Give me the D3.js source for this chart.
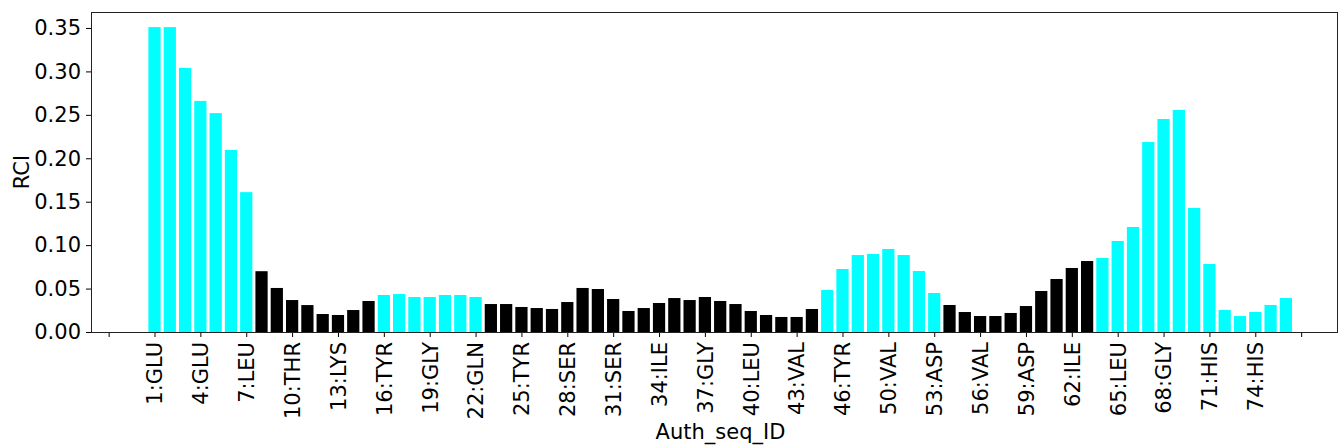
<!DOCTYPE html>
<html>
<head>
<meta charset="utf-8">
<script src="https://cdn.jsdelivr.net/npm/d3@7"></script>
<style>
  html, body { margin: 0; padding: 0; background: #fff; }
  svg { display: block; }
  text { font-family: "DejaVu Sans", sans-serif; }
</style>
</head>
<body>
<svg id="chart" width="1339" height="447"></svg>
<script>
// Residue numbers (one residue missing between 47 and 50)
const residues = [1,2,3,4,5,6,7,8,9,10,11,12,13,14,15,16,17,18,19,20,21,22,23,24,25,26,27,28,29,30,
  31,32,33,34,35,36,37,38,39,40,41,42,43,44,45,46,47,49,50,51,52,53,54,55,56,57,58,59,60,61,
  62,63,64,65,66,67,68,69,70,71,72,73,74,75,76];
// RCI values per bar
const rci = [0.351,0.351,0.304,0.266,0.252,0.2095,0.161,0.070,0.0507,0.0368,0.031,0.0207,0.0196,0.0253,0.0357,
  0.0426,0.0437,0.0403,0.0403,0.0426,0.0426,0.0403,
  0.0322,0.0322,0.0288,0.0276,0.0265,0.0345,0.0507,0.0495,0.038,0.0242,0.0276,0.0334,0.0391,0.0368,0.0403,0.0357,
  0.0322,0.0242,0.0196,0.0173,0.0173,0.0265,
  0.0484,0.0725,0.0886,0.0898,0.0956,0.0886,0.0702,0.0449,
  0.0311,0.023,0.0184,0.0184,0.0219,0.0299,0.0472,0.061,0.0737,0.0817,
  0.0852,0.1048,0.1209,0.2187,0.2452,0.2556,0.1428,0.0783,0.0253,0.0184,0.023,0.0311,0.0391];
// Highlight flag per bar (1 = cyan group, 0 = black group)
const highlight = [1,1,1,1,1,1,1, 0,0,0,0,0,0,0,0, 1,1,1,1,1,1,1,
  0,0,0,0,0,0,0,0,0,0,0,0,0,0,0,0,0,0,0,0,0,0,
  1,1,1,1,1,1,1,1, 0,0,0,0,0,0,0,0,0,0, 1,1,1,1,1,1,1,1,1,1,1,1,1];
// x tick positions (bar index) and labels
const xTickPos = [-3,0,3,6,9,12,15,18,21,24,27,30,33,36,39,42,45,48,51,54,57,60,63,66,69,72,75];
const xTickLabels = ["","1:GLU","4:GLU","7:LEU","10:THR","13:LYS","16:TYR","19:GLY","22:GLN","25:TYR",
  "28:SER","31:SER","34:ILE","37:GLY","40:LEU","43:VAL","46:TYR","50:VAL","53:ASP","56:VAL",
  "59:ASP","62:ILE","65:LEU","68:GLY","71:HIS","74:HIS",""];
const yTicks = [0,0.05,0.10,0.15,0.20,0.25,0.30,0.35];

const svg = d3.select("#chart");
const L = 91, R = 1338, T = 12, B = 332;
const FS = 21;

const x = d3.scaleLinear().domain([-4.154, 77.41]).range([L, R]);
const y = d3.scaleLinear().domain([0, 0.3684]).range([B, T]);
const bw = x(0.8) - x(0);

const data = rci.map((v, i) => ({i, v, h: highlight[i], res: residues[i]}));

svg.append("g").selectAll("rect").data(data).enter().append("rect")
  .attr("x", d => x(d.i) - bw / 2)
  .attr("y", d => y(d.v))
  .attr("width", bw)
  .attr("height", d => y(0) - y(d.v))
  .attr("fill", d => d.h ? "#00ffff" : "#000000");

// Axes
const xAxis = d3.axisBottom(x).tickValues(xTickPos)
  .tickFormat((d, i) => xTickLabels[i]).tickSize(5).tickPadding(5);
const gx = svg.append("g").attr("transform", `translate(0,${B})`).call(xAxis);
gx.select(".domain").remove();
gx.selectAll(".tick line").attr("stroke", "#000").attr("stroke-width", 1);
gx.selectAll(".tick text")
  .attr("font-size", FS)
  .attr("fill", "#000")
  .attr("transform", "rotate(-90)")
  .attr("text-anchor", "end")
  .attr("x", -10)
  .attr("y", 0)
  .attr("dy", "0.35em");

const yAxis = d3.axisLeft(y).tickValues(yTicks)
  .tickFormat(d3.format(".2f")).tickSize(5).tickPadding(5);
const gy = svg.append("g").attr("transform", `translate(${L},0)`).call(yAxis);
gy.select(".domain").remove();
gy.selectAll(".tick line").attr("stroke", "#000").attr("stroke-width", 1);
gy.selectAll(".tick text").attr("font-size", FS).attr("fill", "#000");

// Frame
svg.append("rect")
  .attr("x", L + 0.5).attr("y", T + 0.5)
  .attr("width", R - L - 1).attr("height", B - T)
  .attr("fill", "none").attr("stroke", "#222").attr("stroke-width", 1);

// Axis labels
svg.append("text")
  .attr("x", (L + R) / 2 + 6).attr("y", 439)
  .attr("text-anchor", "middle").attr("font-size", FS)
  .text("Auth_seq_ID");
svg.append("text")
  .attr("transform", `translate(29,${(T + B) / 2}) rotate(-90)`)
  .attr("text-anchor", "middle").attr("font-size", FS)
  .text("RCI");
</script>
</body>
</html>
